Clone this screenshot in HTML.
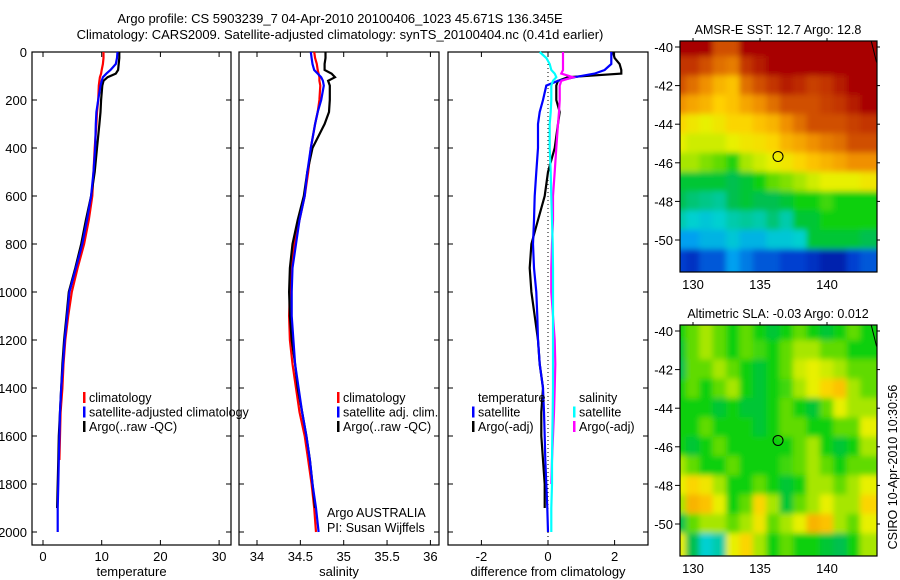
<!DOCTYPE html>
<html><head><meta charset="utf-8"><style>
html,body{margin:0;padding:0;background:#fff}
svg{display:block;font-family:"Liberation Sans",sans-serif}
</style></head><body>
<svg id="fig" width="900" height="580" viewBox="0 0 900 580" xmlns="http://www.w3.org/2000/svg">
<defs>
<filter id="blur" filterUnits="userSpaceOnUse" x="600" y="0" width="300" height="580"><feGaussianBlur stdDeviation="3"/></filter>
<clipPath id="clipm1"><rect x="680" y="41" width="197" height="231"/></clipPath>
<clipPath id="clipm2"><rect x="680" y="325" width="197" height="231"/></clipPath>
</defs>
<text x="340" y="23" font-size="13" text-anchor="middle">Argo profile: CS 5903239_7 04-Apr-2010 20100406_1023 45.671S 136.345E</text>
<text x="340" y="39" font-size="13" text-anchor="middle">Climatology: CARS2009. Satellite-adjusted climatology: synTS_20100404.nc (0.41d earlier)</text>
<g id="root"></g>
</svg>
<script>
// ---- data ----
const depths = [0,25,50,75,90,105,120,140,200,250,300,400,500,600,700,800,900,1000,1100,1200,1300,1400,1500,1600,1700,1800,1900,2000];
const tempClim = [10.3,10.3,10.2,10.0,9.9,9.7,9.6,9.5,9.4,9.2,9.1,8.8,8.6,8.4,7.8,7.0,5.9,4.9,4.3,3.8,3.5,3.3,3.0,2.9,2.8,null,null,null];
const tempSat  = [12.7,12.6,12.4,11.5,10.8,10.2,10.0,9.8,9.4,9.1,9.0,8.9,8.6,8.2,7.5,6.7,5.6,4.5,4.1,3.7,3.4,3.1,2.9,2.8,2.7,2.6,2.5,2.5];
const tempArgo = [13.0,13.0,12.9,12.8,12.4,11.0,10.3,10.1,9.9,9.8,9.6,9.2,8.8,8.2,7.3,6.5,5.5,4.4,4.0,3.6,3.3,3.1,2.9,2.7,2.6,2.5,2.4,null];
const salClim  = [34.66,34.67,34.69,34.70,34.71,34.72,34.72,34.73,34.72,34.70,34.67,34.62,34.59,34.55,34.49,34.43,34.40,34.38,34.37,34.38,34.41,34.45,34.49,34.55,34.59,34.63,34.66,34.68];
const salSat   = [34.62,34.63,34.64,34.66,34.70,34.74,34.76,34.77,34.74,34.70,34.67,34.62,34.58,34.55,34.49,34.45,34.41,34.40,34.40,34.42,34.44,34.48,34.52,34.57,34.61,34.64,34.68,34.71];
const salArgo  = [34.79,34.79,34.78,34.78,34.86,34.90,34.82,34.84,34.84,34.83,34.78,34.64,34.58,34.54,34.47,34.41,34.38,34.37,34.38,34.40,34.44,34.47,34.52,34.57,34.61,34.64,34.67,null];
const dTempSat  = [1.9,1.9,1.9,1.7,1.4,0.8,0.3,-0.05,-0.15,-0.25,-0.3,-0.3,-0.35,-0.4,-0.42,-0.45,-0.42,-0.35,-0.32,-0.3,-0.25,-0.15,-0.12,-0.1,-0.08,-0.05,-0.02,0.0];
const dTempArgo = [1.95,2.0,2.15,2.2,2.2,0.6,0.3,0.25,0.25,0.35,0.3,0.2,0.0,-0.1,-0.3,-0.5,-0.55,-0.5,-0.4,-0.3,-0.25,-0.15,-0.2,-0.2,-0.15,-0.1,-0.1,null];
const dSalSat   = [-0.25,-0.05,0.05,0.1,0.2,0.25,0.15,0.1,0.1,0.08,0.05,0.05,0.08,0.1,0.12,0.14,0.15,0.15,0.15,0.15,0.15,0.15,0.14,0.13,0.12,0.12,0.1,0.1];
const dSalArgo  = [0.45,0.45,0.45,0.45,0.4,0.75,0.4,0.35,0.35,0.33,0.3,0.25,0.2,0.15,0.15,0.12,0.1,0.1,0.15,0.2,0.22,0.2,0.18,0.15,0.12,0.1,null,null];
const depthTicks = [0,200,400,600,800,1000,1200,1400,1600,1800,2000];
const tempTicks = [0,10,20,30];
const salTicks = [34,34.5,35,35.5,36];
const salTickLabels = ["34","34.5","35","35.5","36"];
const diffTicks = [-2,0,2];
const lonTicks = [130,135,140];
const latTicks = [-40,-42,-44,-46,-48,-50];
const mapLons = [129,130,131,132,133,134,135,136,137,138,139,140,141,142,143];
const mapLats = [-40,-41,-42,-43,-44,-45,-46,-47,-48,-49,-50,-51];
const sstGrid = [
[1,1,1,0.85,0.85,1,1,1,1,1,1,1,1,1,1],
[0.9,0.9,0.85,0.8,0.78,0.9,0.95,1,1,1,1,1,1,1,1],
[0.85,0.8,0.75,0.7,0.68,0.8,0.85,0.9,0.95,0.92,0.88,0.9,0.95,1,1],
[0.75,0.72,0.7,0.66,0.68,0.72,0.75,0.8,0.85,0.85,0.85,0.88,0.9,0.95,1],
[0.65,0.62,0.6,0.62,0.65,0.65,0.68,0.7,0.75,0.8,0.85,0.85,0.85,0.88,0.9],
[0.6,0.58,0.58,0.58,0.6,0.62,0.63,0.65,0.7,0.72,0.75,0.78,0.8,0.85,0.85],
[0.55,0.55,0.52,0.5,0.46,0.55,0.58,0.6,0.62,0.65,0.68,0.7,0.72,0.75,0.75],
[0.42,0.42,0.42,0.42,0.4,0.42,0.45,0.5,0.52,0.55,0.58,0.6,0.6,0.6,0.62],
[0.4,0.38,0.37,0.36,0.4,0.42,0.4,0.4,0.42,0.45,0.45,0.48,0.45,0.45,0.45],
[0.35,0.33,0.32,0.33,0.35,0.36,0.35,0.38,0.35,0.42,0.42,0.45,0.45,0.45,0.45],
[0.28,0.28,0.3,0.3,0.32,0.3,0.3,0.32,0.32,0.33,0.42,0.42,0.42,0.42,0.4],
[0.2,0.18,0.22,0.22,0.28,0.25,0.22,0.22,0.2,0.2,0.18,0.15,0.15,0.2,0.22]];
const slaGrid = [
[0.45,0.5,0.55,0.5,0.45,0.5,0.45,0.42,0.45,0.5,0.45,0.42,0.45,0.5,0.45],
[0.42,0.5,0.55,0.5,0.45,0.5,0.48,0.45,0.5,0.55,0.55,0.5,0.5,0.45,0.45],
[0.4,0.5,0.5,0.55,0.5,0.45,0.42,0.45,0.5,0.58,0.6,0.58,0.55,0.5,0.5],
[0.45,0.5,0.45,0.5,0.55,0.45,0.42,0.45,0.48,0.55,0.6,0.65,0.68,0.55,0.5],
[0.45,0.45,0.45,0.42,0.45,0.42,0.42,0.45,0.5,0.45,0.42,0.5,0.6,0.55,0.55],
[0.45,0.45,0.5,0.45,0.45,0.45,0.42,0.45,0.5,0.5,0.45,0.45,0.5,0.5,0.6],
[0.45,0.42,0.45,0.5,0.45,0.45,0.45,0.45,0.45,0.5,0.55,0.45,0.42,0.45,0.55],
[0.55,0.5,0.45,0.45,0.5,0.45,0.45,0.45,0.48,0.5,0.55,0.5,0.45,0.5,0.5],
[0.6,0.65,0.62,0.55,0.45,0.45,0.5,0.45,0.42,0.45,0.55,0.55,0.5,0.55,0.6],
[0.55,0.7,0.68,0.6,0.45,0.5,0.65,0.55,0.42,0.5,0.55,0.6,0.55,0.55,0.65],
[0.4,0.5,0.55,0.55,0.5,0.55,0.62,0.5,0.55,0.6,0.7,0.68,0.55,0.5,0.6],
[0.6,0.4,0.33,0.35,0.6,0.65,0.55,0.45,0.5,0.45,0.45,0.42,0.4,0.45,0.55]];
const floatLon = 136.345, floatLat = -45.671;

// ---- helpers ----
const NS = "http://www.w3.org/2000/svg";
const root = document.getElementById('root');
function mk(tag, attrs, parent){ const e=document.createElementNS(NS,tag); for(const k in attrs) e.setAttribute(k,attrs[k]); (parent||root).appendChild(e); return e; }
const yD = d => 52 + d*0.24;

function panel(name, x0, x1, xScale, ticks, labels, xlabel){
  const g = mk('g',{});
  
  
  const box = mk('rect',{x:x0,y:52,width:x1-x0,height:493,fill:'none',stroke:'#000','stroke-width':1.2},g);
  
  
  depthTicks.forEach(d=>{
    const y=yD(d);
    mk('line',{x1:x0,x2:x0+5,y1:y,y2:y,stroke:'#000'},g);
    mk('line',{x1:x1-5,x2:x1,y1:y,y2:y,stroke:'#000'},g);
    if(name==='temperature'){
      const t=mk('text',{x:27,y:y+5,'font-size':13,'text-anchor':'end'},g);
      t.textContent=d;
      
      
    }
  });
  ticks.forEach((v,i)=>{
    const x=xScale(v);
    mk('line',{x1:x,x2:x,y1:52,y2:57,stroke:'#000'},g);
    mk('line',{x1:x,x2:x,y1:540,y2:545,stroke:'#000'},g);
    const t=mk('text',{x:x,y:561,'font-size':13,'text-anchor':'middle'},g);
    t.textContent=labels[i];
    
    
  });
  const xl=mk('text',{x:(x0+x1)/2,y:576,'font-size':13,'text-anchor':'middle'},g);
  xl.textContent=xlabel;
  
  
  return g;
}
function series(g, vals, xScale, color, name){
  let d='', pen=false;
  vals.forEach((v,i)=>{
    if(v===null){pen=false;return;}
    d += (pen?'L':'M')+xScale(v).toFixed(1)+','+yD(depths[i]).toFixed(1)+' ';
    pen=true;
  });
  const p=mk('path',{d:d,fill:'none',stroke:color,'stroke-width':2.2},g);
  
  
}
function legend(g, x, y0, items){
  items.forEach((it,i)=>{
    const y=y0+i*14.5;
    if(it[0]) mk('rect',{x:x,y:y-10,width:2.5,height:11,fill:it[0]},g);
    const t=mk('text',{x:x+6,y:y,'font-size':12.5},g);
    t.textContent=it[1];
    
    
  });
}

// temperature panel
const xT = v => 43 + v*5.87;
const gT = panel('temperature',32,231,xT,tempTicks,tempTicks.map(String),'temperature');
series(gT,tempClim,xT,'#ff0000','temp-climatology-line');
series(gT,tempArgo,xT,'#000000','temp-argo-line');
series(gT,tempSat,xT,'#0000ff','temp-satellite-line');
legend(gT,83,402,[['#ff0000','climatology'],['#0000ff','satellite-adjusted climatology'],['#000','Argo(..raw -QC)']]);

// salinity panel
const xS = v => 257 + (v-34)*86.7;
const gS = panel('salinity',239,439,xS,salTicks,salTickLabels,'salinity');
series(gS,salClim,xS,'#ff0000','sal-climatology-line');
series(gS,salArgo,xS,'#000000','sal-argo-line');
series(gS,salSat,xS,'#0000ff','sal-satellite-line');
legend(gS,337,402,[['#ff0000','climatology'],['#0000ff','satellite adj. clim.'],['#000','Argo(..raw -QC)']]);
const a1=mk('text',{x:327,y:517,'font-size':12.5},gS); a1.textContent='Argo AUSTRALIA';


const a2=mk('text',{x:327,y:532,'font-size':12.5},gS); a2.textContent='PI: Susan Wijffels';



// difference panel
const xDf = v => 548 + v*33.3;
const gD = panel('difference',448,648,xDf,diffTicks,diffTicks.map(String),'difference from climatology');
mk('line',{x1:xDf(0),x2:xDf(0),y1:52,y2:545,stroke:'#000','stroke-dasharray':'1,3'},gD);
series(gD,dTempArgo,xDf,'#000000','diff-temp-argo-line');
series(gD,dTempSat,xDf,'#0000ff','diff-temp-satellite-line');
series(gD,dSalArgo,xDf,'#ff00ff','diff-sal-argo-line');
series(gD,dSalSat,xDf,'#00ffff','diff-sal-satellite-line');
legend(gD,472,402,[[null,'temperature'],['#0000ff','satellite'],['#000','Argo(-adj)']]);
legend(gD,573,402,[[null,'salinity'],['#00ffff','satellite'],['#ff00ff','Argo(-adj)']]);

// colormap
const stops=[[0.1,[0,0,140]],[0.2,[0,64,208]],[0.28,[0,160,240]],[0.33,[0,208,208]],[0.4,[0,192,80]],[0.45,[16,208,16]],[0.52,[128,224,0]],[0.6,[232,240,0]],[0.66,[255,208,0]],[0.75,[240,144,0]],[0.85,[208,80,0]],[1.0,[168,0,0]]];
function cmap(v){
  if(v<=stops[0][0]) return 'rgb('+stops[0][1]+')';
  for(let i=1;i<stops.length;i++){
    if(v<=stops[i][0]){
      const a=stops[i-1],b=stops[i],t=(v-a[0])/(b[0]-a[0]);
      return 'rgb('+a[1].map((c,k)=>Math.round(c+(b[1][k]-c)*t)).join(',')+')';
    }
  }
  return 'rgb('+stops[stops.length-1][1]+')';
}
function map(name, top, grid, title){
  const lx = v => 693 + (v-130)*13.4;
  const ly = v => top+6 + (-40 - v)*19.3;
  const g=mk('g',{}); 
  
  const cg=mk('g',{'clip-path':'url(#clip'+(top<100?'m1':'m2')+')'},g);
  const hg=mk('g',{filter:'url(#blur)'},cg);
  const nr=grid.length, nc=grid[0].length;
  grid.forEach((row,r)=>row.forEach((v,c)=>{
    let x0=lx(mapLons[c]-0.5), y0=ly(mapLats[r]+0.5), w=13.4, h=19.3;
    if(c===0){x0-=12;w+=12;} if(c===nc-1){w+=12;}
    if(r===0){y0-=12;h+=12;} if(r===nr-1){h+=14;}
    const cell=mk('rect',{x:x0-0.5,y:y0-0.5,width:w+1,height:h+1,fill:cmap(v)},hg);
    
    
  }));
  mk('line',{x1:lx(143.3),y1:top,x2:lx(143.7),y2:ly(-40.8),stroke:'#000'},cg);
  const box=mk('rect',{x:680,y:top,width:197,height:231,fill:'none',stroke:'#000','stroke-width':1.2},g);
  
  
  lonTicks.forEach(v=>{
    const x=lx(v);
    mk('line',{x1:x,x2:x,y1:top-3,y2:top,stroke:'#000'},g);
    const t=mk('text',{x:x,y:top+248,'font-size':13,'text-anchor':'middle'},g); t.textContent=v;
    
    
  });
  latTicks.forEach(v=>{
    const y=ly(v);
    mk('line',{x1:675,x2:680,y1:y,y2:y,stroke:'#000'},g);
    mk('line',{x1:877,x2:880,y1:y,y2:y,stroke:'#000'},g);
    const t=mk('text',{x:673,y:y+5,'font-size':13,'text-anchor':'end'},g); t.textContent=v;
    
    
  });
  const c=mk('circle',{cx:lx(floatLon),cy:ly(floatLat),r:5,fill:'none',stroke:'#000','stroke-width':1},g);
  
  
  const t=mk('text',{x:778,y:top-7,'font-size':12.5,'text-anchor':'middle'},g); t.textContent=title;
  
  
}
map('sst-map',41,sstGrid,'AMSR-E SST: 12.7 Argo: 12.8');
map('sla-map',325,slaGrid,'Altimetric SLA: -0.03 Argo: 0.012');
const cs=mk('text',{x:0,y:0,'font-size':12.5,'text-anchor':'middle',transform:'translate(897,467) rotate(-90)'});
cs.textContent='CSIRO 10-Apr-2010 10:30:56';


</script>
</body></html>
